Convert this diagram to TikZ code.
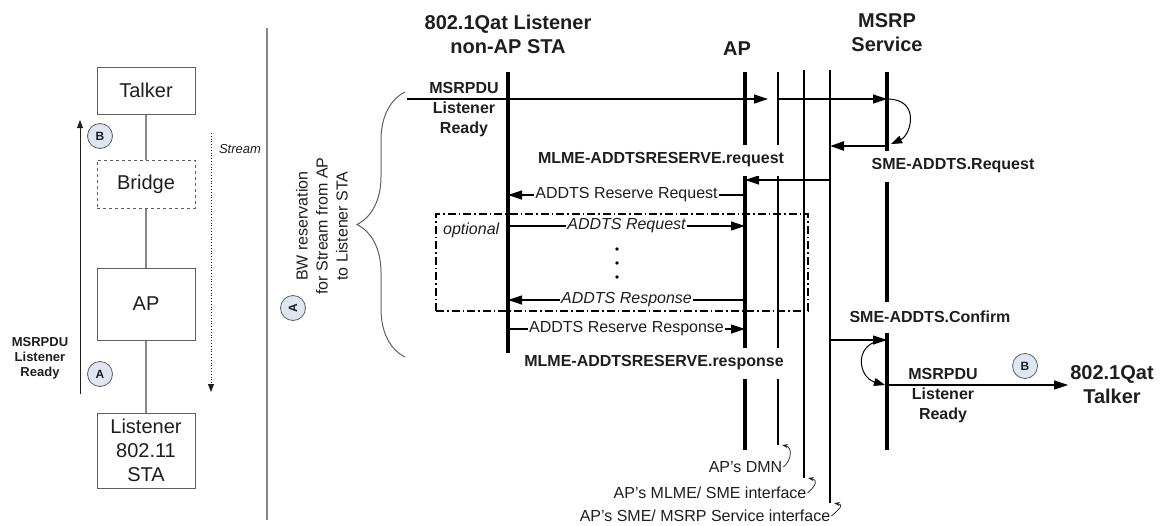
\documentclass[tikz,border=0pt]{standalone}
\usepackage{fontspec}
\setmainfont{Liberation Sans}
\usetikzlibrary{%
	arrows.meta,%
	positioning,%
	decorations.pathreplacing,%
}
\definecolor{cdark}{RGB}{30, 30, 30}
\definecolor{cgray}{RGB}{95, 95, 95}
\definecolor{cgraylight}{RGB}{135, 135, 135}
\definecolor{cbluelight}{RGB}{221, 230, 242}
\tikzset{
	>={Triangle[length=14pt,width=9pt]},%
	nodes={align=center, text=cdark},%
	entity/.style={%
			draw=cgray,%
			rectangle,%
			line width=1pt,%
			minimum width=98pt,%
			inner sep=1pt,%
			fill=white,%
			font=\fontsize{20}{25}\selectfont},%
	link/.style={draw=cgraylight, line width=1.2pt},%
	tag/.style={%
			draw=cgray,%
			circle,%
			line width=.8pt,%
			fill=cbluelight,%
			minimum size=25pt,%
			inner sep=0pt,%
			font=\fontsize{12}{12}\selectfont\bfseries},%
	smalllbl/.style={font=\fontsize{13}{15}\selectfont\bfseries},%
	hdr/.style={font=\fontsize{20}{24}\selectfont\bfseries},%
	prim/.style={%
			fill=white,%
			minimum height=31pt,%
			inner xsep=2pt,%
			inner ysep=0pt,%
			font=\fontsize{16}{20}\selectfont\bfseries},%
	pdu/.style={font=\fontsize{16}{20}\selectfont\bfseries},%
	msglbl/.style={%
			fill=white,%
			inner sep=1pt,%
			font=\fontsize{16}{20}\selectfont},%
	optlbl/.style={%
			fill=white,%
			inner sep=1pt,%
			font=\fontsize{16}{20}\selectfont\itshape},%
	ifacelbl/.style={inner sep=1pt, font=\fontsize{16}{20}\selectfont},%
	life/.style={draw=black, line width=3.2pt},%
	iface/.style={draw=black, line width=1.2pt},%
	msg/.style={->, draw=black, line width=1.2pt},%
	loopmsg/.style={-{Triangle[length=11pt,width=8pt]}, draw=black, line width=1pt},%
	ptr/.style={-{Stealth[length=6pt,width=4pt]}, draw=cdark, line width=.7pt},%
	optbox/.style={%
			draw=black,%
			line width=1.3pt,%
			dash pattern=on 8pt off 3pt on 1.5pt off 3pt,%
			minimum width=372pt,%
			minimum height=97pt},%
	brc/.style={%
			draw=cgray,%
			line width=1pt,%
			decorate,%
			decoration={brace, amplitude=48pt}},%
}

\begin{document}
\begin{tikzpicture}[x=1pt, y=-1pt]
	\useasboundingbox (0,0) rectangle (1161,525);

	\node[entity, minimum height=47pt] (talker) at (146,90.5) {Talker};
	\node[entity, dashed, minimum height=48pt] (bridge) [below=45pt of talker] {Bridge};
	\node[entity, minimum height=72pt] (apbox) [below=59pt of bridge] {AP};
	\node[entity, minimum height=75pt, font=\fontsize{20}{24}\selectfont] (sta) [below=72pt of apbox] {Listener\\802.11\\STA};
	\draw[link] (talker) -- (bridge);
	\draw[link] (bridge) -- (apbox);
	\draw[link] (apbox) -- (sta);

	\coordinate (upS) at (80,394);
	\coordinate (upE) at (80,120);
	\draw[-{Triangle[length=8pt,width=6pt]}, draw=cdark, line width=.8pt] (upS) -- (upE);
	\node[tag] (tagB) at (100,136) {B};
	\node[tag] (tagA) at (100,374) {A};
	\node[smalllbl] (rdyl) at (40,358) {MSRPDU\\Listener\\Ready};
	\coordinate (strS) at (211,133);
	\coordinate (strE) at (211,392);
	\draw[-{Triangle[length=8pt,width=6pt]}, draw=cdark, dotted, line width=.8pt] (strS) -- (strE);
	\node[font=\fontsize{13}{15}\selectfont\itshape] (strl) at (240,149) {Stream};
	\coordinate (sepT) at (267,28);
	\coordinate (sepB) at (267,520);
	\draw[draw=cgraylight, line width=1.2pt] (sepT) -- (sepB);

	\node[hdr] (hlsn) at (508,34) {802.1Qat Listener\\non-AP STA};
	\node[hdr] (hap) at (737,49) {AP};
	\node[hdr] (hmsrp) at (887,33) {MSRP\\Service};

	\coordinate (lsnT) at (508,72);
	\coordinate (lsnB) at (508,353);
	\coordinate (apT) at (745,72);
	\coordinate (apB) at (745,450);
	\coordinate (dmnT) at (778,72);
	\coordinate (dmnB) at (778,445);
	\coordinate (mlmT) at (804,70);
	\coordinate (mlmB) at (804,478);
	\coordinate (smeT) at (830,70);
	\coordinate (smeB) at (830,503);
	\coordinate (msrpT) at (887,72);
	\coordinate (msrpB) at (887,450);
	\draw[life] (lsnT) -- (lsnB);
	\draw[life] (apT) -- (apB);
	\draw[iface] (dmnT) -- (dmnB);
	\draw[iface] (mlmT) -- (mlmB);
	\draw[iface] (smeT) -- (smeB);
	\draw[life] (msrpT) -- (msrpB);

	\coordinate (m1) at (0,99);
	\coordinate (m2) at (0,146);
	\coordinate (m3) at (0,180);
	\coordinate (m4) at (0,195);
	\coordinate (m5) at (0,226);
	\coordinate (m6) at (0,300);
	\coordinate (m7) at (0,329);
	\coordinate (m8) at (0,340);
	\coordinate (m9) at (0,385);

	\node[optbox] (opt) at (622,262.5) {};
	\node[optlbl, anchor=west] (optl) at (442,230) {optional};
	\foreach \y in {249,263,277}
		\fill (617,\y) circle (1.8);

	\coordinate (rdyin) at (407,99);
	\draw[msg, shorten >=10pt] (rdyin) -- (dmnT |- m1);
	\draw[msg] (dmnT |- m1) -- (msrpT |- m1);
	\node[pdu] (rdym) at (464,110) {MSRPDU\\Listener\\Ready};
	\coordinate (loopE) at (891,144);
	\draw[loopmsg] (msrpT |- m1) .. controls +(34,0) and +(20,-9) .. (loopE);
	\draw[msg, line width=2.4pt] (msrpT |- m2) -- (smeT |- m2);
	\draw[msg] (smeT |- m3) -- (apT |- m3);
	\draw[msg] (apT |- m4) -- node[msglbl] {ADDTS Reserve Request} (lsnT |- m4);
	\draw[msg] (lsnT |- m5) -- node[optlbl] {ADDTS Request} (apT |- m5);
	\draw[msg] (apT |- m6) -- node[optlbl] {ADDTS Response} (lsnT |- m6);
	\draw[msg] (lsnT |- m7) -- node[msglbl] {ADDTS Reserve Response} (apT |- m7);
	\draw[msg] (smeT |- m8) -- (msrpT |- m8);
	\coordinate (loopF) at (885,385);
	\draw[loopmsg] (msrpT |- m8) .. controls +(-34,0) and +(-28,-8) .. (loopF);

	\node[prim] (mreq) at (661,160) {MLME-ADDTSRESERVE.request};
	\node[prim] (sreq) at (953,166) {SME-ADDTS.Request};
	\node[prim] (mrsp) at (654,363) {MLME-ADDTSRESERVE.response};
	\node[prim] (scnf) at (930,317) {SME-ADDTS.Confirm};

	\node[hdr, inner sep=2pt] (tlk) at (1112,385) {802.1Qat\\Talker};
	\draw[msg] (msrpT |- m9) -- (tlk.west);
	\node[pdu] (rdyt) at (943,396) {MSRPDU\\Listener\\Ready};
	\node[tag] (tagB2) at (1025,366) {B};

	\coordinate (brcB) at (405,357);
	\coordinate (brcT) at (405,92);
	\draw[brc] (brcB) -- (brcT);
	\node[msglbl, fill=none, rotate=90] (bwl) at (322,226) {BW reservation\\for Stream from AP\\to Listener STA};
	\node[tag, rotate=90] (tagA2) at (293,308) {A};

	\node[ifacelbl] (dmnl) at (745.5,467) {AP's DMN};
	\node[ifacelbl] (mlml) at (710,493) {AP's MLME/ SME interface};
	\node[ifacelbl] (smel) at (705,516) {AP's SME/ MSRP Service interface};
	\draw[ptr] (dmnl.east) .. controls +(9,-8) and +(10,2) .. ([xshift=4pt]dmnB);
	\draw[ptr] (mlml.east) .. controls +(9,-8) and +(10,2) .. ([xshift=4pt]mlmB);
	\draw[ptr] (smel.east) .. controls +(9,-8) and +(10,2) .. ([xshift=4pt]smeB);
\end{tikzpicture}
\end{document}
